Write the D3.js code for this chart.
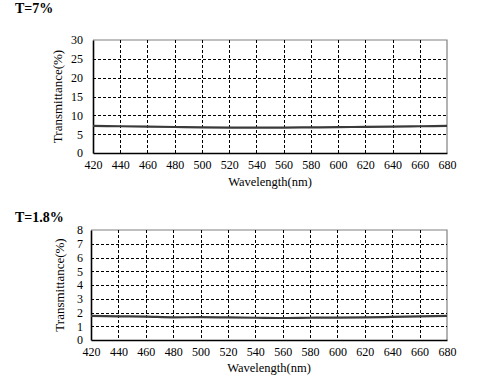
<!DOCTYPE html>
<html><head><meta charset="utf-8">
<script src="https://cdn.jsdelivr.net/npm/d3@7"></script>
<style>body{margin:0;background:#fff}svg{display:block}text{font-family:"Liberation Serif","DejaVu Serif",serif}</style>
</head><body>
<script>
const wavelengths = [420,440,460,480,500,520,540,560,580,600,620,640,660,680];
const seriesT7 = [7.2,7.1,7.0,6.9,6.8,6.75,6.75,6.75,6.8,6.85,6.95,7.0,7.1,7.2];
const seriesT18 = [1.75,1.72,1.7,1.65,1.66,1.64,1.62,1.6,1.62,1.63,1.65,1.68,1.72,1.75];
const xTicks = [420,440,460,480,500,520,540,560,580,600,620,640,660,680];
const yTicksT7 = [0,5,10,15,20,25,30];
const yTicksT18 = [0,1,2,3,4,5,6,7,8];
const titles = ["T=7%","T=1.8%"];

const svg = d3.select("body").append("svg").attr("width",477).attr("height",385);

function panel(cfg){
  const g = svg.append("g");
  const x = d3.scaleLinear().domain([420,680]).range([cfg.x0,cfg.x1]);
  const y = d3.scaleLinear().domain([0,cfg.ymax]).range([cfg.y1,cfg.y0]);
  g.append("text").attr("x",15).attr("y",cfg.titleY).attr("font-weight","bold")
    .attr("font-size",14).text(cfg.title);
  g.append("path").attr("d",`M${cfg.x0},${cfg.y0}H${cfg.x1}V${cfg.y1}`)
    .attr("fill","none").attr("stroke","#808080").attr("stroke-width",1.2);
  g.selectAll(".hg").data(cfg.yTicks.filter(v=>v>0 && v<cfg.ymax)).enter().append("line")
    .attr("x1",cfg.x0).attr("x2",cfg.x1).attr("y1",d=>Math.round(y(d))+0.5).attr("y2",d=>Math.round(y(d))+0.5)
    .attr("stroke","#000").attr("stroke-dasharray","3,2").attr("stroke-width",1);
  g.selectAll(".vg").data(xTicks.slice(1,-1)).enter().append("line")
    .attr("y1",cfg.y0).attr("y2",cfg.y1).attr("x1",d=>Math.round(x(d))+0.5).attr("x2",d=>Math.round(x(d))+0.5)
    .attr("stroke","#000").attr("stroke-dasharray","3,2").attr("stroke-width",1);
  const xa = g.append("g").attr("transform",`translate(0,${cfg.y1})`)
    .call(d3.axisBottom(x).tickValues(xTicks).tickSize(0).tickPadding(7).tickFormat(d3.format("d")));
  const ya = g.append("g").attr("transform",`translate(${cfg.x0},0)`)
    .call(d3.axisLeft(y).tickValues(cfg.yTicks).tickSize(0).tickPadding(cfg.yPad));
  [xa,ya].forEach(a=>{
    a.select(".domain").attr("stroke","#000").attr("stroke-width",1.6);
    a.selectAll("text").attr("font-size",12).attr("fill","#000")
      .attr("font-family",'"Liberation Serif",serif');
  });
  const line = d3.line().x((d,i)=>x(wavelengths[i])).y(d=>y(d)).curve(d3.curveMonotoneX);
  g.append("path").datum(cfg.data).attr("d",line).attr("fill","none")
    .attr("stroke","#3a3a3a").attr("stroke-width",2.2);
  g.append("text").attr("x",(cfg.x0+cfg.x1)/2).attr("y",cfg.xLabelY).attr("text-anchor","middle")
    .attr("font-size",12.5).text("Wavelength(nm)");
  g.append("text").attr("transform",`translate(${cfg.yLabelX},${(cfg.y0+cfg.y1)/2}) rotate(-90)`)
    .attr("text-anchor","middle").attr("font-size",13).text("Transmittance(%)");
}

panel({title:titles[0],titleY:13,x0:93,x1:447,y0:40,y1:153,ymax:30,yTicks:yTicksT7,yPad:10,
  data:seriesT7,xLabelY:186,yLabelX:62});
panel({title:titles[1],titleY:222,x0:91,x1:447,y0:230,y1:340,ymax:8,yTicks:yTicksT18,yPad:8,
  data:seriesT18,xLabelY:372,yLabelX:64});
</script>
</body></html>
